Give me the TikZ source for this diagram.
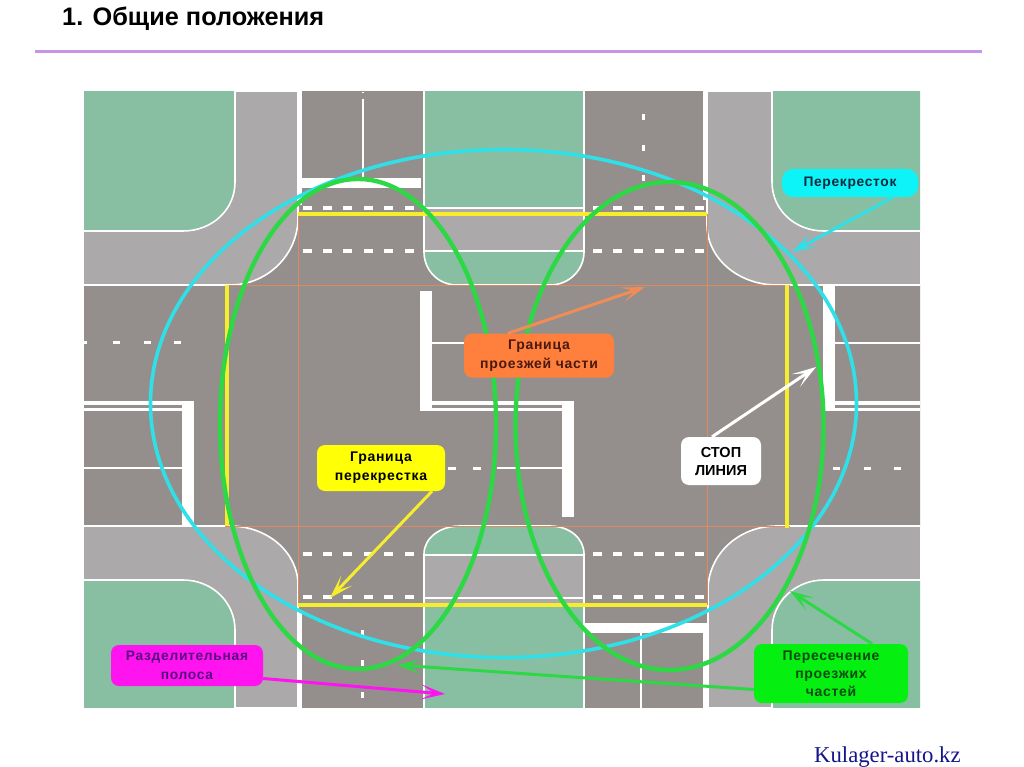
\documentclass[tikz,border=0pt]{standalone}
\usepackage{fontspec}
\setmainfont{Liberation Sans}
\newfontfamily\serf{Liberation Serif}
\newfontfamily\lbl[LetterSpace=5]{Liberation Sans Bold}
\usetikzlibrary{arrows.meta,calc}
\definecolor{road}{HTML}{948F8C}
\definecolor{walk}{HTML}{ABA9A9}
\definecolor{lawn}{HTML}{88BFA2}
\definecolor{edgeo}{HTML}{DE8A5E}
\definecolor{ycol}{HTML}{F6EE2C}
\definecolor{cyanl}{HTML}{2FE0E8}
\definecolor{greenl}{HTML}{2CD944}
\definecolor{rulec}{HTML}{C795E8}
\definecolor{lo}{HTML}{FF7F3C}
\definecolor{ly}{HTML}{FFFF05}
\definecolor{lc}{HTML}{0CF4F8}
\definecolor{lm}{HTML}{FF14F0}
\definecolor{lg}{HTML}{05F010}
\definecolor{ao}{HTML}{F08C55}
\definecolor{tc}{HTML}{0C2A40}
\definecolor{to}{HTML}{4A1A10}
\definecolor{tm}{HTML}{5A0A80}
\definecolor{tg}{HTML}{0C4A10}
\definecolor{site}{HTML}{14148C}
\tikzset{
  wline/.style={draw=white,line width=2.4pt},
  yline/.style={draw=ycol,line width=3.4pt},
  oline/.style={draw=edgeo,line width=1pt},
  label box/.style={rounded corners=8pt,inner sep=0pt,align=center},
  arr/.style={line width=3pt,-{Stealth[length=24pt,width=15pt,inset=13pt]}}
}
\begin{document}
\begin{tikzpicture}[x=1pt,y=-1pt]
\useasboundingbox (0,0) rectangle (1024,767);
\fill[white] (0,0) rectangle (1024,767);
% title
\node[anchor=base west,inner sep=0pt,font=\fontsize{25.3}{28}\selectfont\bfseries] (title) at (62,26) {1. Общие положения};
\coordinate (ruleL) at (35,51.5);
\coordinate (ruleR) at (982,51.5);
\draw[rulec,line width=2.2pt] (ruleL) -- (ruleR);
\node[anchor=base west,inner sep=0pt,font=\serf\fontsize{22.7}{26}\selectfont,text=site] (sitename) at (814,762) {Kulager-auto.kz};
% ground
\begin{scope}
\clip (84,92) rectangle (920,707);
\fill[walk] (84,92) rectangle (920,707);
% lawns
\path[fill=lawn,draw=white,line width=1.6pt] (80,88) -- (235,88) -- (235,182) .. controls (235,210) and (212,231) .. (183,231) -- (80,231) -- cycle;
\path[fill=lawn,draw=white,line width=1.6pt] (925,88) -- (772,88) -- (772,182) .. controls (772,210) and (795,231) .. (824,231) -- (925,231) -- cycle;
\path[fill=lawn,draw=white,line width=1.6pt] (80,712) -- (235,712) -- (235,630) .. controls (235,602) and (212,580) .. (183,580) -- (80,580) -- cycle;
\path[fill=lawn,draw=white,line width=1.6pt] (925,712) -- (772,712) -- (772,630) .. controls (772,602) and (795,580) .. (824,580) -- (925,580) -- cycle;
\fill[lawn] (425,88) rectangle (584,207);
\fill[lawn] (425,252) rectangle (584,290);
\fill[lawn] (425,520) rectangle (584,554);
\fill[lawn] (425,607) rectangle (584,712);
\draw[wline,line width=2pt] (425,208) -- (584,208);
\draw[wline,line width=2pt] (425,251) -- (584,251);
\draw[wline,line width=2pt] (425,555) -- (584,555);
\draw[wline,line width=2pt] (425,598) -- (584,598);
% road surface
\path[fill=road,draw=white,line width=1.6pt]
 (80,285) -- (230,285) .. controls (267,285) and (298,255) .. (298,218) -- (298,88)
 -- (424,88) -- (424,252) .. controls (424,270) and (438,285) .. (457,285)
 -- (550,285) .. controls (569,285) and (584,270) .. (584,252) -- (584,88)
 -- (707,88) -- (707,225) .. controls (707,258) and (738,285) .. (777,285)
 -- (925,285) -- (925,526) -- (777,526) .. controls (738,526) and (708,555) .. (708,590)
 -- (708,712) -- (584,712) -- (584,554) .. controls (584,538) and (569,526) .. (550,526)
 -- (460,526) .. controls (440,526) and (424,538) .. (424,554)
 -- (424,712) -- (298,712) -- (298,585) .. controls (298,552) and (267,526) .. (230,526)
 -- (80,526) -- cycle;
% curb edge lines
\fill[white] (297,88) rectangle (302,205);
\fill[white] (297,613) rectangle (302,712);
\fill[white] (703,88) rectangle (707,200);
\fill[white] (703,623) rectangle (707,712);
% stop lines and solid markings
\fill[white] (302,178) rectangle (421,188);
\draw[wline,line width=2.2pt] (363,99) -- (363,178);
\fill[white] (362,92) rectangle (364,93.5);
\fill[white] (584,623) rectangle (703,633);
\draw[wline,line width=2.2pt] (641,633) -- (641,712);
\foreach \yy in {114,145,175} \fill[white] (642,\yy) rectangle (645,\yy+6);
\foreach \yy in {630,660,692} \fill[white] (361,\yy) rectangle (363.5,\yy+6);
% cross dashes
\foreach \yy in {208,251,554,597} {
  \foreach \xx in {303,323,343,364,384,405} \fill[white] (\xx,\yy-2) rectangle (\xx+9,\yy+2);
  \foreach \xx in {593,613,634,655,675,695} \fill[white] (\xx,\yy-2) rectangle (\xx+8.5,\yy+2);
}
% left arm
\foreach \xx in {80,113,144,174} \fill[white] (\xx,340.5) rectangle (\xx+7,343.5);
\fill[white] (182,401) rectangle (194,525);
\fill[white] (80,401) rectangle (182,405);
\fill[white] (80,408) rectangle (182,410.5);
\draw[wline] (80,468) -- (182,468);
% right arm
\fill[white] (823,285) rectangle (835,410.5);
\draw[wline] (835,343) -- (925,343);
\fill[white] (835,401) rectangle (925,405);
\fill[white] (835,408) rectangle (925,410.5);
\foreach \xx in {833,864,894} \fill[white] (\xx,466.5) rectangle (\xx+7,469.5);
% centre
\fill[white] (420,291) rectangle (432,410.5);
\draw[wline] (432,343) -- (500,343);
\fill[white] (432,401) rectangle (574,405);
\fill[white] (432,408) rectangle (562,410.5);
\fill[white] (562,401) rectangle (574,517);
\draw[wline] (497,468) -- (562,468);
\foreach \xx in {448,473} \fill[white] (\xx,466.5) rectangle (\xx+8,469.5);
% carriageway boundaries
\draw[oline] (225,285) -- (790,285);
\draw[oline] (225,526) -- (790,526);
\draw[oline] (298,214) -- (298,605);
\draw[oline] (707,214) -- (707,605);
% intersection boundary
\draw[yline] (298,214) -- (707,214);
\draw[yline] (298,605) -- (707,605);
\draw[yline] (227,285) -- (227,526);
\draw[yline] (787,285) -- (787,528);
\end{scope}
% ellipses
\draw[cyanl,line width=3.6pt] (503.5,403.5) ellipse [x radius=353,y radius=254];
\draw[greenl,line width=4.4pt] (358,424) ellipse [x radius=138,y radius=245];
\draw[greenl,line width=4.4pt] (669.5,426) ellipse [x radius=154,y radius=244];
% arrow tips
\coordinate (tipO) at (645,287);
\coordinate (tipY) at (330,598);
\coordinate (tipW) at (816,367);
\coordinate (tipC) at (792,252);
\coordinate (tipM) at (445,694);
\coordinate (tipG1) at (790,591);
\coordinate (tipG2) at (397,665);
% labels
\node[label box,fill=lo,minimum width=150pt,minimum height=44pt,text=to,font=\lbl\fontsize{14}{19.5}\selectfont] (lblO) at (539,355.5) {Граница\\проезжей части};
\node[label box,fill=ly,minimum width=128pt,minimum height=46pt,text=black,font=\lbl\fontsize{14}{19}\selectfont] (lblY) at (381,468) {Граница\\перекрестка};
\node[label box,fill=white,minimum width=80pt,minimum height=48pt,text=black,font=\bfseries\fontsize{14.5}{18}\selectfont] (lblW) at (721,461) {СТОП\\ЛИНИЯ};
\node[label box,rounded corners=11pt,fill=lc,minimum width=136pt,minimum height=28pt,text=tc,font=\lbl\fontsize{13.8}{16}\selectfont] (lblC) at (850,183) {Перекресток};
\node[label box,fill=lm,minimum width=152pt,minimum height=41pt,text=tm,font=\lbl\fontsize{13.8}{19}\selectfont] (lblM) at (187,665.5) {Разделительная\\полоса};
\node[label box,fill=lg,minimum width=154pt,minimum height=59pt,text=tg,font=\lbl\fontsize{14}{18}\selectfont] (lblG) at (831,673.5) {Пересечение\\проезжих\\частей};
% arrows
\draw[arr,draw=ao,fill=ao] ([xshift=-31pt]lblO.north) -- (tipO);
\draw[arr,draw=ycol,fill=ycol] ([xshift=51pt]lblY.south) -- (tipY);
\draw[arr,draw=white,fill=white] ([xshift=-9pt]lblW.north) -- (tipW);
\draw[arr,draw=cyanl,fill=cyanl] ([xshift=43pt]lblC.south) -- (tipC);
\draw[arr,draw=lm,fill=lm] ([yshift=-13pt]lblM.east) -- (tipM);
\draw[arr,draw=greenl,fill=greenl] ([xshift=41pt]lblG.north) -- (tipG1);
\draw[arr,draw=greenl,fill=greenl] ([yshift=-16pt]lblG.west) -- (tipG2);
\end{tikzpicture}
\end{document}
